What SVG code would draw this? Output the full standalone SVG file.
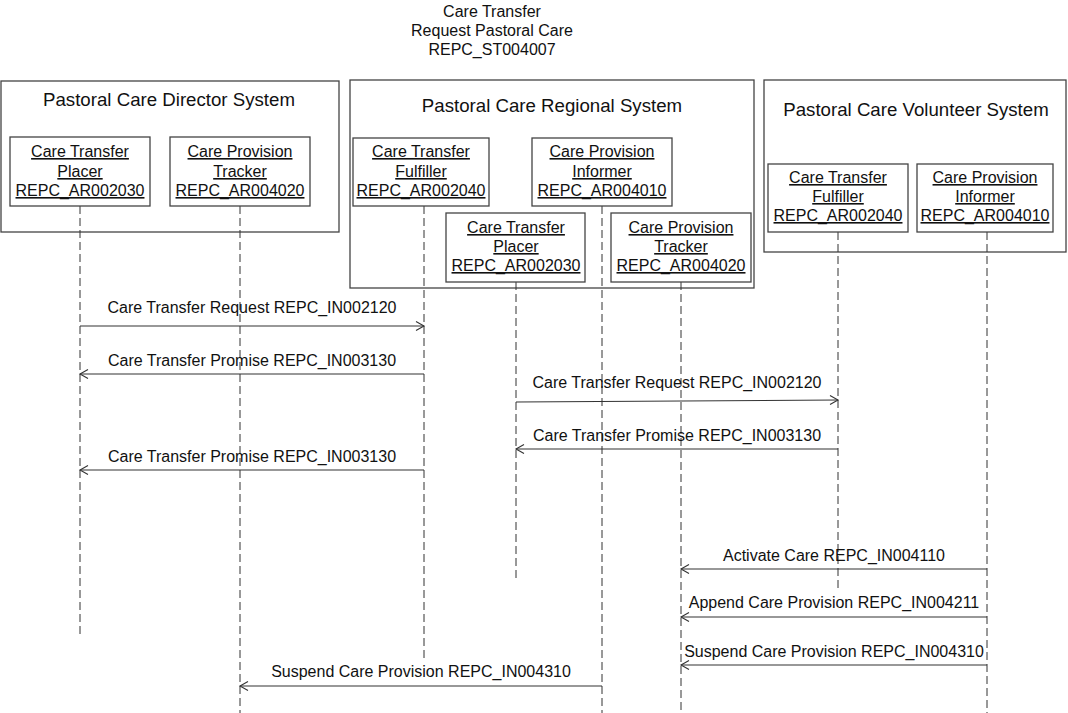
<svg xmlns="http://www.w3.org/2000/svg" width="1068" height="713" viewBox="0 0 1068 713">
<style>
  text { font-family: "Liberation Sans", Arial, sans-serif; fill: #111; }
  .title { font-size: 16px; text-anchor: middle; }
  .sys { fill: #fff; stroke: #444; stroke-width: 1.3; }
  .sysname { font-size: 18.67px; text-anchor: middle; }
  .obj { fill: #fff; stroke: #444; stroke-width: 1.3; }
  .objtxt { font-size: 16px; text-anchor: middle; text-decoration: underline; }
  .life { stroke: #333; stroke-width: 1; stroke-dasharray: 8,4; fill: none; }
  .msg { stroke: #333; stroke-width: 1.1; fill: none; marker-end: url(#open); }
  .lbl { font-size: 16px; text-anchor: middle; }
</style>
<defs>
  <marker id="open" markerUnits="userSpaceOnUse" markerWidth="12" markerHeight="12" refX="9" refY="5" orient="auto">
    <path d="M1,0.5 L9,5 L1,9.5" fill="none" stroke="#333" stroke-width="1.1"/>
  </marker>
</defs>
<rect width="1068" height="713" fill="#fff"/>

<g id="title">
  <text class="title" x="492" y="17">Care Transfer</text>
  <text class="title" x="492" y="36">Request Pastoral Care</text>
  <text class="title" x="492" y="55">REPC_ST004007</text>
</g>

<g id="director-system">
  <rect class="sys" x="1" y="81" width="338" height="151"/>
  <text class="sysname" x="169" y="106">Pastoral Care Director System</text>
</g>
<g id="regional-system">
  <rect class="sys" x="350" y="80" width="404" height="208"/>
  <text class="sysname" x="552" y="112">Pastoral Care Regional System</text>
</g>
<g id="volunteer-system">
  <rect class="sys" x="764" y="80" width="302" height="172"/>
  <text class="sysname" x="916" y="116">Pastoral Care Volunteer System</text>
</g>

<g id="lifelines">
  <line class="life" x1="80" y1="206" x2="80" y2="634"/>
  <line class="life" x1="240" y1="206" x2="240" y2="713"/>
  <line class="life" x1="424" y1="206" x2="424" y2="660"/>
  <line class="life" x1="602" y1="206" x2="602" y2="713"/>
  <line class="life" x1="516" y1="282" x2="516" y2="578"/>
  <line class="life" x1="681" y1="282" x2="681" y2="713"/>
  <line class="life" x1="838" y1="232" x2="838" y2="592"/>
  <line class="life" x1="987" y1="232" x2="987" y2="713"/>
</g>

<g id="dir-placer">
  <rect class="obj" x="10" y="137" width="140" height="69"/>
  <text class="objtxt" x="80" y="157">Care Transfer</text>
  <text class="objtxt" x="80" y="177">Placer</text>
  <text class="objtxt" x="80" y="196">REPC_AR002030</text>
</g>
<g id="dir-tracker">
  <rect class="obj" x="170" y="137" width="140" height="69"/>
  <text class="objtxt" x="240" y="157">Care Provision</text>
  <text class="objtxt" x="240" y="177">Tracker</text>
  <text class="objtxt" x="240" y="196">REPC_AR004020</text>
</g>
<g id="reg-fulfiller">
  <rect class="obj" x="353" y="138" width="136" height="68"/>
  <text class="objtxt" x="421" y="157">Care Transfer</text>
  <text class="objtxt" x="421" y="177">Fulfiller</text>
  <text class="objtxt" x="421" y="196">REPC_AR002040</text>
</g>
<g id="reg-informer">
  <rect class="obj" x="532" y="138" width="140" height="68"/>
  <text class="objtxt" x="602" y="157">Care Provision</text>
  <text class="objtxt" x="602" y="177">Informer</text>
  <text class="objtxt" x="602" y="196">REPC_AR004010</text>
</g>
<g id="reg-placer">
  <rect class="obj" x="446" y="213" width="139" height="69"/>
  <text class="objtxt" x="516" y="233">Care Transfer</text>
  <text class="objtxt" x="516" y="252">Placer</text>
  <text class="objtxt" x="516" y="271">REPC_AR002030</text>
</g>
<g id="reg-tracker">
  <rect class="obj" x="611" y="213" width="140" height="69"/>
  <text class="objtxt" x="681" y="233">Care Provision</text>
  <text class="objtxt" x="681" y="252">Tracker</text>
  <text class="objtxt" x="681" y="271">REPC_AR004020</text>
</g>
<g id="vol-fulfiller">
  <rect class="obj" x="768" y="164" width="140" height="68"/>
  <text class="objtxt" x="838" y="183">Care Transfer</text>
  <text class="objtxt" x="838" y="202">Fulfiller</text>
  <text class="objtxt" x="838" y="221">REPC_AR002040</text>
</g>
<g id="vol-informer">
  <rect class="obj" x="917" y="164" width="136" height="68"/>
  <text class="objtxt" x="985" y="183">Care Provision</text>
  <text class="objtxt" x="985" y="202">Informer</text>
  <text class="objtxt" x="985" y="221">REPC_AR004010</text>
</g>

<g id="connectors">
  <line class="msg" x1="80" y1="326" x2="424" y2="326"/>
  <text class="lbl" x="252" y="313">Care Transfer Request REPC_IN002120</text>
  <line class="msg" x1="424" y1="374" x2="80" y2="374"/>
  <text class="lbl" x="252" y="366">Care Transfer Promise REPC_IN003130</text>
  <line class="msg" x1="516" y1="402" x2="838" y2="400"/>
  <text class="lbl" x="677" y="388">Care Transfer Request REPC_IN002120</text>
  <line class="msg" x1="838" y1="449" x2="516" y2="449"/>
  <text class="lbl" x="677" y="441">Care Transfer Promise REPC_IN003130</text>
  <line class="msg" x1="424" y1="470" x2="80" y2="470"/>
  <text class="lbl" x="252" y="462">Care Transfer Promise REPC_IN003130</text>
  <line class="msg" x1="987" y1="569" x2="681" y2="569"/>
  <text class="lbl" x="834" y="561">Activate Care REPC_IN004110</text>
  <line class="msg" x1="987" y1="617" x2="681" y2="617"/>
  <text class="lbl" x="834" y="608">Append Care Provision REPC_IN004211</text>
  <line class="msg" x1="987" y1="665" x2="681" y2="665"/>
  <text class="lbl" x="834" y="657">Suspend Care Provision REPC_IN004310</text>
  <line class="msg" x1="602" y1="686" x2="240" y2="686"/>
  <text class="lbl" x="421" y="677">Suspend Care Provision REPC_IN004310</text>
</g>
</svg>
